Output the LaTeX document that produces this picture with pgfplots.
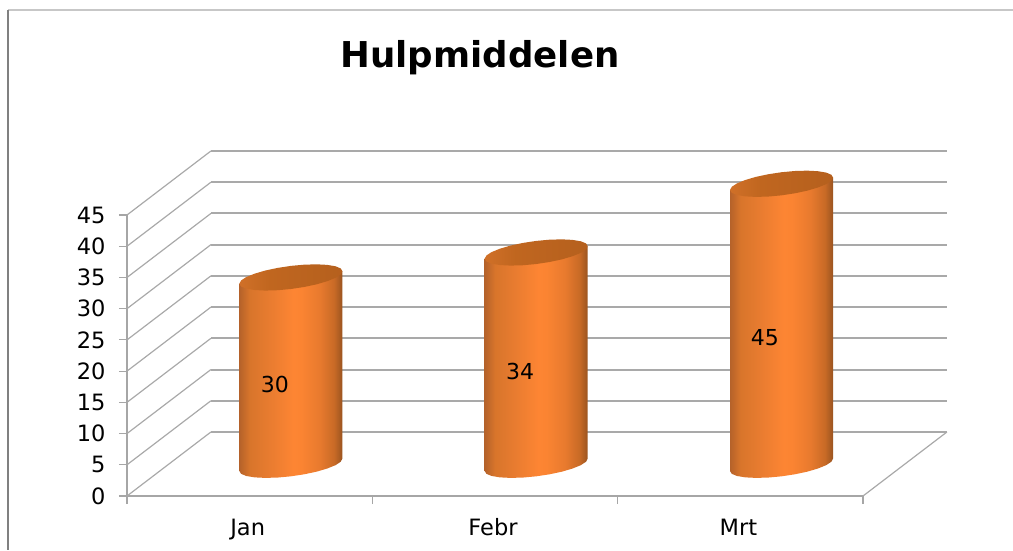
\documentclass[border=0pt]{standalone}
\usepackage{pgfplots}
\usepackage{pgfplotstable}
\usepackage{fontspec}
\setmainfont{DejaVu Sans}
\pgfplotsset{compat=1.18}
\definecolor{grid}{HTML}{A9A9A9}
\definecolor{axisgray}{HTML}{A6A6A6}
\definecolor{ca}{HTML}{B5622A}
\definecolor{cb}{HTML}{D8752B}
\definecolor{cc}{HTML}{E97C30}
\definecolor{cd}{HTML}{FD8533}
\definecolor{ce}{HTML}{FB8432}
\definecolor{cf}{HTML}{E87A2E}
\definecolor{cg}{HTML}{C86A26}
\definecolor{ch}{HTML}{9A5420}
\definecolor{ka}{HTML}{D07028}
\definecolor{kb}{HTML}{C0661F}
\definecolor{kc}{HTML}{B5601E}
\pgfdeclarehorizontalshading{cyl}{100bp}{color(0bp)=(ca); color(25bp)=(ca); color(30bp)=(cb); color(40bp)=(cc); color(51bp)=(cd); color(55bp)=(ce); color(64bp)=(cf); color(71bp)=(cg); color(75bp)=(ch); color(100bp)=(ch)}
\pgfdeclarehorizontalshading{capsh}{100bp}{color(0bp)=(ka); color(25bp)=(ka); color(40bp)=(kb); color(75bp)=(kc); color(100bp)=(kc)}
% side wall: front edge to back edge
\pgfplotstableread{
dx dy
0 0
0.342 10.25
}\sidewall
% back wall
\pgfplotstableread{
dx dy
0.342 10.25
3.342 10.25
}\backwall
% cylinder side: top-left, lower arc of the base, top-right
\pgfplotstableread{
dx dy top
-0.21 -1 1
-0.21 -1 0
-0.203 -1.445 0
-0.182 -1.791 0
-0.148 -2.015 0
-0.105 -2.102 0
-0.054 -2.046 0
0 -1.85 0
0.054 -1.528 0
0.105 -1.102 0
0.148 -0.601 0
0.182 -0.059 0
0.203 0.487 0
0.21 1 0
0.21 1 1
}\body
% top ellipse
\pgfplotstableread{
dx dy
-0.21 -1
-0.203 -1.445
-0.182 -1.791
-0.148 -2.015
-0.105 -2.102
-0.054 -2.046
0 -1.85
0.054 -1.528
0.105 -1.102
0.148 -0.601
0.182 -0.059
0.203 0.487
0.21 1
0.203 1.445
0.182 1.791
0.148 2.015
0.105 2.102
0.054 2.046
0 1.85
-0.054 1.528
-0.105 1.102
-0.148 0.601
-0.182 0.059
-0.203 -0.487
}\capshape
\pgfplotstableread{
x y label
0.603 17.8 30
1.602 19.9 34
2.600 25.3 45
}\labels
\newcommand{\cylinder}[2]{%
  \addplot[draw=none, shading=cyl] table[x expr=\thisrow{dx}+#1, y expr=\thisrow{dy}+5+\thisrow{top}*#2] {\body};
  \addplot[draw=none, shading=capsh] table[x expr=\thisrow{dx}+#1, y expr=\thisrow{dy}+5+#2] {\capshape};
}
\begin{document}
\begin{tikzpicture}[x=1pt,y=1pt]
\path[use as bounding box] (0,0) rectangle (1013,550);
\draw[color=black!22, line width=1.2pt] (8,540) -- (1013,540);
\draw[color=black!50, line width=1.4pt] (8,540) -- (8,0);
\begin{axis}[
  at={(127pt,54pt)}, anchor=south west,
  scale only axis, width=736pt, height=281pt,
  xmin=0, xmax=3, ymin=0, ymax=45, clip=false,
  axis x line*=bottom, axis y line*=left,
  axis line style={color=axisgray, line width=1.8pt, -},
  xtick={0,1,2,3}, xticklabels={Jan,Febr,Mrt}, x tick label as interval,
  ytick={0,5,...,45},
  tick align=outside, major tick length=8pt,
  tick style={color=axisgray, line width=1.2pt},
  tick label style={font=\fontsize{22.5}{26}\selectfont, color=black},
  /pgf/number format/assume math mode=true,
  xticklabel style={yshift=-11pt, xshift=-2pt, text height=17pt, text depth=1pt},
  yticklabel style={xshift=-10pt},
  title={Hulpmiddelen},
  title style={at={(0.4796,1)}, anchor=center, yshift=151pt, font=\fontsize{35.6}{40}\selectfont\bfseries},
]
\pgfplotsinvokeforeach{0,5,10,15,20,25,30,35,40,45}{
  \addplot[color=grid, line width=1.2pt] table[x=dx, y expr=\thisrow{dy}+#1] {\sidewall};
  \addplot[color=grid, line width=1.9pt] table[x=dx, y expr=\thisrow{dy}+#1] {\backwall};
}
\addplot[color=grid, line width=1.2pt] coordinates {(3,0) (3.342,10.25)};
\cylinder{0.668}{30}
\cylinder{1.668}{34}
\cylinder{2.668}{45}
\addplot[draw=none, mark=none, nodes near coords, point meta=explicit symbolic,
  nodes near coords align={center},
  every node near coord/.append style={font=\fontsize{22}{26}\selectfont, color=black, text=black}]
  table[x=x, y=y, meta=label] {\labels};
\end{axis}
\end{tikzpicture}
\end{document}
